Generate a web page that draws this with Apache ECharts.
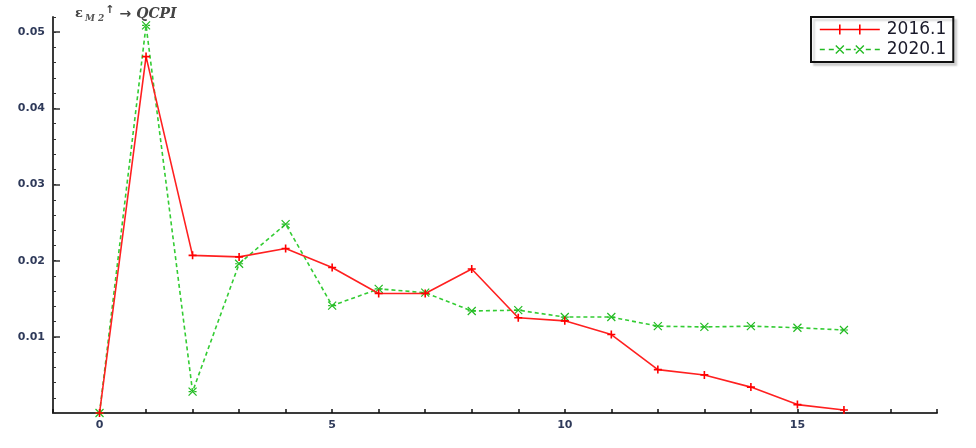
<!DOCTYPE html>
<html><head><meta charset="utf-8">
<script src="https://cdn.jsdelivr.net/npm/echarts@6/dist/echarts.min.js"></script>
<style>html,body{margin:0;padding:0;background:#fff}#c{width:976px;height:448px}</style>
</head><body><div id="c"></div>
<script>
const horizons = [0,1,2,3,4,5,6,7,8,9,10,11,12,13,14,15,16];
const s2016 = [0,0.0468,0.0207,0.0205,0.0216,0.0191,0.0157,0.0157,0.0189,0.0125,0.0121,0.0103,0.0057,0.0050,0.0034,0.0011,0.0004];
const s2020 = [0,0.0509,0.0028,0.0196,0.0248,0.0141,0.0163,0.0158,0.0134,0.0135,0.0126,0.0126,0.0114,0.0113,0.0114,0.0112,0.0109];
const seriesNames = ['2016.1','2020.1'];
const yLabelValues = [0.01,0.02,0.03,0.04,0.05];

const plusPath = 'path://M0,5L10,5M5,0L5,10';
const crossPath = 'path://M0,0L10,10M10,0L0,10M0,5L3,5M7,5L10,5';
const legendRedIcon = 'path://M0,6L60,6M20,1L20,11M40,1L40,11M0,0L0,0M0,12L0,12';
const legendGreenIcon = 'path://M0,6L5,6M9,6L14,6M16,2L24,10M24,2L16,10M26,6L31,6M34,6L36,6M36,2L44,10M44,2L36,10M46,6L51,6M55,6L60,6M0,0L0,0M0,12L0,12';
const chart = echarts.init(document.getElementById('c'));
const axisCol = '#3a3a3a';
const labelCol = '#2f3a5a';
chart.setOption({
  animation:false,
  backgroundColor:'#fff',
  title:{
    left:70, top:0,
    text:'{e|ε}{sub|M 2}{sup|↑} {a|→} {b|QCPI}',
    textStyle:{
      rich:{
        e:{fontFamily:'DejaVu Serif',fontSize:13,color:'#444',fontWeight:'bold'},
        sub:{fontFamily:'DejaVu Serif',fontSize:9,fontStyle:'italic',color:'#555',verticalAlign:'bottom',padding:[7,0,0,2]},
        sup:{fontFamily:'DejaVu Sans',fontSize:11,color:'#444',verticalAlign:'top',padding:[0,0,6,1]},
        a:{fontFamily:'DejaVu Sans',fontSize:14,color:'#444'},
        b:{fontFamily:'DejaVu Serif',fontSize:14,fontStyle:'italic',fontWeight:'bold',color:'#444'}
      }
    }
  },
  legend:{
    orient:'vertical',
    left:811, top:17,
    padding:[4,7,4,8],
    itemGap:3,
    itemWidth:60, itemHeight:12,
    backgroundColor:'#fff',
    borderColor:'#111', borderWidth:2, borderRadius:0,
    shadowColor:'rgba(0,0,0,0.15)', shadowBlur:2, shadowOffsetX:3, shadowOffsetY:3,
    textStyle:{fontFamily:'DejaVu Sans',fontSize:17,color:'#1a1a2a',padding:[0,0,0,2]},
    data:[
      {name:seriesNames[0],icon:legendRedIcon,itemStyle:{color:'transparent',borderColor:'#ff0000',borderWidth:1.6}},
      {name:seriesNames[1],icon:legendGreenIcon,itemStyle:{color:'transparent',borderColor:'#22bb22',borderWidth:1.4}}
    ]
  },
  grid:{left:53,right:39,top:17,bottom:35},
  xAxis:{
    type:'value', min:-1, max:18, interval:1,
    axisLine:{show:true,onZero:false,lineStyle:{color:axisCol,width:2}},
    axisTick:{show:true,inside:true,length:4,lineStyle:{color:'#111',width:1.5}},
    axisLabel:{
      color:labelCol,fontFamily:'DejaVu Sans',fontSize:11,fontWeight:'bold',margin:7,
      formatter:v=> (Math.round(v)===v && v%5===0 && v>=0 && v<=15) ? String(v) : ''
    },
    splitLine:{show:false}
  },
  yAxis:[{
    type:'value', min:0, max:0.052, interval:0.002,
    axisLine:{show:true,onZero:false,lineStyle:{color:axisCol,width:2}},
    axisTick:{show:true,inside:true,length:3,lineStyle:{color:'#333',width:1}},
    axisLabel:{show:false},
    splitLine:{show:false}
  },{
    type:'value', min:0, max:0.052, position:'left', offset:0,
    axisLine:{show:false,onZero:false},
    axisTick:{show:true,inside:true,length:7,customValues:yLabelValues,lineStyle:{color:'#333',width:1.5}},
    axisLabel:{
      show:true,customValues:yLabelValues,
      color:labelCol,fontFamily:'DejaVu Sans',fontSize:11,fontWeight:'bold',margin:8,
      formatter:v=>v.toFixed(2)
    },
    splitLine:{show:false}
  }],
  series:[{
    name:seriesNames[0], type:'line',
    data:horizons.map((h,i)=>[h,s2016[i]]),
    symbol:plusPath, symbolSize:8, showAllSymbol:true,
    lineStyle:{color:'#ff2020',width:1.6,type:'solid'},
    itemStyle:{color:'#ff0000',borderColor:'#ff0000',borderWidth:1.6},
    z:3
  },{
    name:seriesNames[1], type:'line',
    data:horizons.map((h,i)=>[h,s2020[i]]),
    symbol:crossPath, symbolSize:8, showAllSymbol:true,
    lineStyle:{color:'#33cc33',width:1.6,type:[4,3]},
    itemStyle:{color:'#22bb22',borderColor:'#22bb22',borderWidth:1.2},
    z:2
  }]
});
</script>
</body></html>
